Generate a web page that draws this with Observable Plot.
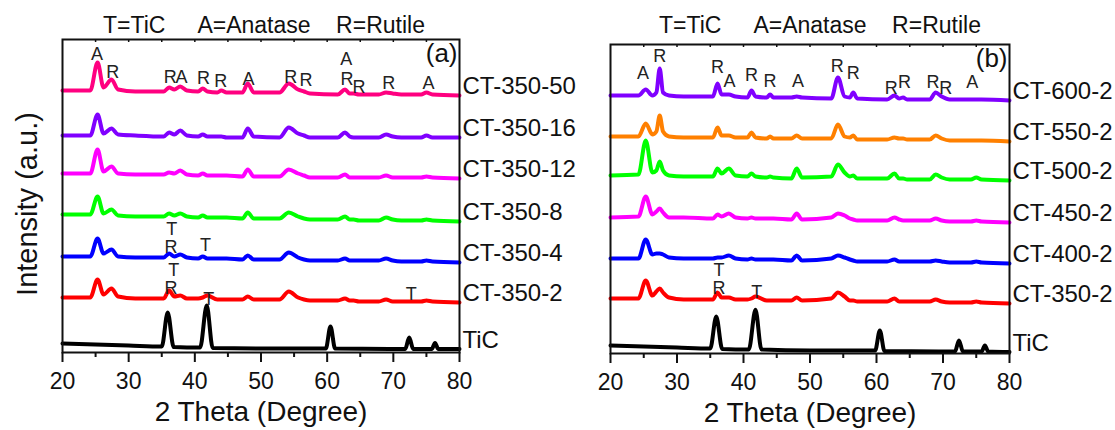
<!DOCTYPE html>
<html>
<head>
<meta charset="utf-8">
<script src="https://cdn.jsdelivr.net/npm/d3@7"></script>
<script src="https://cdn.jsdelivr.net/npm/@observablehq/plot@0.6"></script>
<style>
  body { margin: 0; background: #fff; }
  #chart { position: relative; width: 1115px; height: 430px; overflow: hidden; background: #fff; }
  #chart svg { position: absolute; top: 0; overflow: visible; background: transparent; }
</style>
</head>
<body>
<div id="chart"></div>
<script>
// ---- XRD patterns, 2θ (degree) vs stacked intensity (a.u.) ----

// Panel (a): TiO2 samples calcined at 350 °C for different times
const anglesA = [20, 24.2, 25.3, 26.2, 27.4, 28.4, 31, 35.3, 36.1, 36.9, 37.8, 38.8, 40.5, 41.2, 41.9, 43.4, 44.0, 44.8, 47.2, 48.0,
                 48.9, 52.8, 54.2, 55.6, 56.5, 57.4, 61.6, 62.7, 63.4, 64.0, 64.8, 67.8, 68.9, 69.9, 71.2, 74.2, 75.0, 75.9, 80];
const ct350_50 = [262, 262, 290, 265, 273, 263, 261, 261, 265, 263, 266, 262, 261, 264, 261, 260, 262, 260, 260, 269,
                  260, 260, 269, 263, 261, 259, 258, 263, 259, 259, 258, 258, 260, 259, 258, 258, 260, 258, 257];
const ct350_16 = [217, 217, 238, 219, 224, 218, 217, 216, 220, 218, 222, 217, 216, 218, 216, 216, 216, 215, 215, 224,
                  216, 215, 225, 219, 217, 215, 215, 220, 216, 215, 215, 215, 218, 216, 215, 215, 217, 215, 215];
const ct350_12 = [179, 179, 203, 181, 186, 179, 178, 178, 180, 179, 182, 178, 177, 179, 177, 177, 177, 177, 176, 183,
                  176, 176, 183, 179, 177, 175, 175, 178, 175, 175, 175, 175, 177, 175, 175, 175, 176, 175, 174];
const ct350_8  = [138, 138, 156, 139, 143, 137, 136, 136, 139, 137, 139, 136, 135, 137, 135, 135, 135, 135, 134, 140,
                  134, 134, 140, 136, 134, 133, 133, 136, 133, 133, 132, 132, 135, 133, 132, 132, 133, 132, 131];
const ct350_4  = [96, 96, 114, 99, 103, 96, 95, 95, 99, 96, 98, 95, 94, 96, 94, 94, 94, 94, 93, 97,
                  93, 93, 100, 95, 93, 92, 92, 94, 92, 92, 92, 92, 94, 92, 91, 91, 92, 91, 90];
const ct350_2a = [55, 55, 73, 58, 64, 56, 54, 54, 62, 56, 57, 54, 54, 55, 57, 53, 53, 53, 53, 56,
                  53, 53, 61, 55, 53, 52, 52, 54, 52, 52, 51, 51, 53, 51, 51, 51, 52, 51, 50];

// Panel (b): TiO2 samples calcined for 2 h at different temperatures
const anglesB = [20, 24.2, 25.3, 26.3, 26.9, 27.4, 27.9, 28.8, 31, 35.4, 36.1, 36.7, 37.8, 38.8, 40.6, 41.2, 41.8, 43.5, 44.0, 44.5,
                 47.2, 48.0, 48.8, 53.2, 54.2, 55.2, 56.0, 56.5, 57.1, 61.6, 62.7, 63.4, 64.0, 64.6, 68.0, 68.9, 69.8, 71.0, 74.2, 75.0,
                 75.8, 80];
const ct600_2  = [258, 258, 264, 258, 261, 285, 261, 258, 257, 257, 270, 259, 259, 257, 256, 263, 257, 256, 259, 256,
                  256, 257, 256, 255, 276, 257, 256, 261, 255, 254, 258, 255, 256, 254, 254, 261, 257, 254, 254, 254,
                  254, 253];
const ct550_2  = [217, 217, 230, 219, 222, 238, 222, 217, 216, 216, 226, 218, 218, 216, 216, 221, 216, 215, 217, 215,
                  215, 218, 215, 215, 229, 217, 216, 218, 214, 214, 216, 215, 215, 214, 214, 218, 215, 213, 213, 213,
                  213, 212];
const ct500_2  = [178, 179, 213, 181, 183, 192, 183, 178, 177, 177, 185, 180, 185, 178, 177, 180, 177, 176, 177, 176,
                  175, 185, 176, 177, 189, 181, 177, 178, 175, 175, 180, 175, 175, 174, 174, 179, 176, 174, 174, 176,
                  174, 173];
const ct450_2  = [136, 137, 157, 139, 142, 145, 141, 136, 136, 135, 139, 137, 140, 136, 135, 136, 135, 135, 135, 135,
                  134, 140, 134, 136, 140, 138, 135, 134, 133, 133, 136, 134, 133, 133, 133, 135, 133, 132, 132, 133,
                  132, 131];
const ct400_2  = [95, 95, 114, 99, 100, 100, 99, 96, 95, 95, 96, 96, 98, 95, 94, 95, 94, 94, 94, 94,
                  93, 98, 93, 95, 98, 96, 94, 93, 92, 92, 94, 92, 92, 92, 92, 93, 92, 91, 91, 92,
                  91, 90];
const ct350_2b = [55, 55, 73, 58, 62, 65, 61, 56, 54, 54, 61, 56, 56, 54, 54, 55, 57, 53, 53, 53,
                  53, 56, 53, 55, 61, 57, 53, 53, 52, 52, 55, 52, 52, 52, 52, 54, 52, 51, 51, 52,
                  51, 50];

// TiC reference pattern (bottom trace of both panels)
const anglesTiC = [20, 30, 35.0, 35.9, 36.8, 40.8, 41.8, 42.7, 50, 59.8, 60.5, 61.2, 71.8, 72.4, 73.0, 75.8, 76.3, 76.8, 80];
const tic_a = [9, 7, 6, 40, 5.5, 5, 47, 4.5, 4, 4, 26, 4, 3.5, 15, 3.5, 3.5, 9.5, 3.5, 3.5];
const tic_b = [8, 6, 5, 37, 4.5, 4, 43.7, 4, 3, 3, 23, 2.5, 2, 13, 2, 2, 8, 2, 1.5];

// Sample names (top to bottom)
const samplesA = ["CT-350-50", "CT-350-16", "CT-350-12", "CT-350-8", "CT-350-4", "CT-350-2", "TiC"];
const samplesB = ["CT-600-2", "CT-550-2", "CT-500-2", "CT-450-2", "CT-400-2", "CT-350-2", "TiC"];

// Phase markers: T = TiC, A = anatase, R = rutile
const markA      = ["A", "R", "R", "A", "R", "R", "A", "R", "R", "A", "R", "R", "R", "A", "T", "R", "T", "T", "R", "T", "T"];
const markAngleA = [25.2, 27.6, 36.3, 38.0, 41.3, 43.9, 48.1, 54.5, 56.8, 62.9, 63.0, 64.8, 69.3, 75.3, 36.5, 36.4, 41.6, 36.8, 36.4, 42.1, 72.7];
const markLevelA = [298, 280, 275, 275, 274, 271, 273, 275, 272, 293, 273, 265, 269, 269, 123, 105, 107, 82, 64, 53, 58];
const markB      = ["A", "R", "R", "A", "R", "R", "A", "R", "R", "R", "R", "R", "R", "A", "T", "R", "T"];
const markAngleB = [24.9, 27.4, 36.1, 37.9, 41.2, 44.0, 48.2, 54.1, 56.5, 62.2, 64.2, 68.5, 70.4, 74.4, 36.3, 36.3, 42.0];
const markLevelB = [280, 297, 286, 272, 278, 272, 272, 287, 280, 265, 271, 271, 265, 271, 83, 65, 61];

const xTicks = [20, 30, 40, 50, 60, 70, 80];
const xMinorTicks = [25, 35, 45, 55, 65, 75];
const topTicks = [25, 30, 35, 40, 45, 50, 55, 60, 65, 70, 75];
const legendText = "T=TiC\u00a0\u00a0\u00a0\u00a0\u00a0A=Anatase\u00a0\u00a0\u00a0\u00a0R=Rutile";

// ---- drawing ----
const FONT = "'Liberation Sans', Arial, Helvetica, sans-serif";
const INK = "#111";

const toRows = (sample, angles, values) =>
  angles.map((angle, i) => ({sample, angle, intensity: values[i]}));

function drawPanel({rows, samples, colors, marks, tag, yMax, width, left,
                    marginTop, marginBottom, marginLeft, marginRight, legendDx, withYLabel}) {
  const ends = rows.filter(d => d.angle === 80);
  const markers = marks.text.map((t, i) => ({t, angle: marks.angle[i], level: marks.level[i]}));
  const svg = Plot.plot({
    width, height: 430,
    marginTop, marginBottom, marginLeft, marginRight,
    style: {fontFamily: FONT, fontSize: "23px", color: INK, background: "transparent", overflow: "visible"},
    x: {domain: [20, 80], ticks: xTicks, tickSize: 0, tickPadding: 20, label: null},
    y: {domain: [0, yMax], axis: null},
    color: {domain: samples, range: colors},
    marks: [
      Plot.lineY(rows, {x: "angle", y: "intensity", z: "sample", stroke: "sample",
                        strokeWidth: 4, curve: "monotone-x", strokeLinejoin: "round"}),
      // outward ticks on the bottom axis, short inward ticks under the top edge
      Plot.ruleX(xTicks, {y1: () => 0, y2: () => -10, stroke: INK, strokeWidth: 2}),
      Plot.ruleX(xMinorTicks, {y1: () => 0, y2: () => -5, stroke: INK, strokeWidth: 2}),
      Plot.ruleX(topTicks, {y1: () => yMax, y2: () => yMax - 3, stroke: INK, strokeWidth: 1.5}),
      Plot.frame({stroke: INK, strokeWidth: 2}),
      Plot.text(ends, {x: "angle", y: "intensity", text: "sample", textAnchor: "start",
                       dx: 3, dy: -9, fontSize: 24, fill: INK}),
      Plot.text(markers, {x: "angle", y: "level", text: "t", fontSize: 18, fill: "#222"}),
      Plot.text([tag], {text: d => d, frameAnchor: "top-right", textAnchor: "end", lineAnchor: "middle",
                        dx: -2, dy: 14, fontSize: 26, fill: INK}),
      Plot.text([legendText], {text: d => d, frameAnchor: "top", textAnchor: "middle", lineAnchor: "middle",
                               dx: legendDx, dy: 25 - marginTop, fontSize: 23, fill: INK}),
      Plot.text(["2 Theta (Degree)"], {text: d => d, frameAnchor: "bottom", textAnchor: "middle", lineAnchor: "middle",
                                       dy: 60, fontSize: 28, fill: INK}),
      withYLabel ? Plot.text(["Intensity (a.u.)"], {text: d => d, frameAnchor: "left", rotate: -90,
                                                   textAnchor: "middle", lineAnchor: "middle",
                                                   dx: -35, dy: 8, fontSize: 29, fill: INK}) : null
    ]
  });
  svg.style.left = left + "px";
  return svg;
}

const colorsA = ["#ff0080", "#8000ff", "#ff00ff", "#00ff00", "#0000ff", "#ff0000", "#000000"];
const colorsB = ["#8000ff", "#ff8000", "#00ff00", "#ff00ff", "#0000ff", "#ff0000", "#000000"];

const rowsA = [
  ...toRows("CT-350-50", anglesA, ct350_50),
  ...toRows("CT-350-16", anglesA, ct350_16),
  ...toRows("CT-350-12", anglesA, ct350_12),
  ...toRows("CT-350-8", anglesA, ct350_8),
  ...toRows("CT-350-4", anglesA, ct350_4),
  ...toRows("CT-350-2", anglesA, ct350_2a),
  ...toRows("TiC", anglesTiC, tic_a)
];
const rowsB = [
  ...toRows("CT-600-2", anglesB, ct600_2),
  ...toRows("CT-550-2", anglesB, ct550_2),
  ...toRows("CT-500-2", anglesB, ct500_2),
  ...toRows("CT-450-2", anglesB, ct450_2),
  ...toRows("CT-400-2", anglesB, ct400_2),
  ...toRows("CT-350-2", anglesB, ct350_2b),
  ...toRows("TiC", anglesTiC, tic_b)
];

const chart = document.getElementById("chart");
chart.append(drawPanel({
  rows: rowsA, samples: samplesA, colors: colorsA,
  marks: {text: markA, angle: markAngleA, level: markLevelA}, tag: "(a)",
  yMax: 313, width: 557, left: 0,
  marginTop: 39, marginBottom: 78, marginLeft: 62, marginRight: 98,
  legendDx: 3, withYLabel: true
}));
chart.append(drawPanel({
  rows: rowsB, samples: samplesB, colors: colorsB,
  marks: {text: markB, angle: markAngleB, level: markLevelB}, tag: "(b)",
  yMax: 309, width: 558, left: 557,
  marginTop: 44, marginBottom: 77, marginLeft: 53, marginRight: 106,
  legendDx: 10, withYLabel: false
}));
</script>
</body>
</html>
